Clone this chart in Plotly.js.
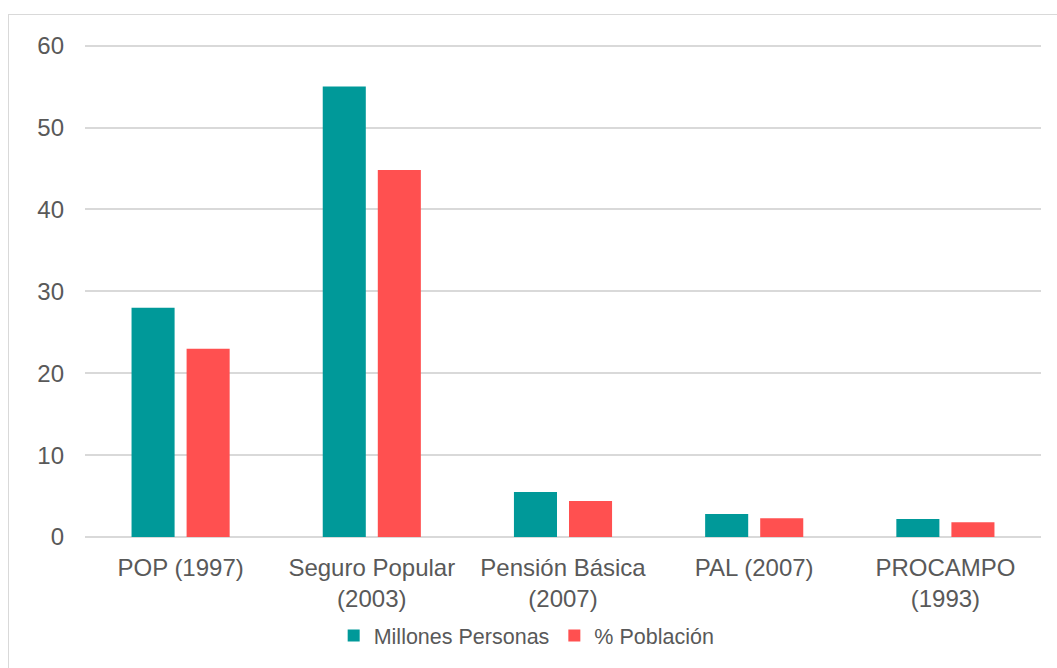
<!DOCTYPE html>
<html>
<head>
<meta charset="utf-8">
<script src="https://cdn.plot.ly/plotly-3.0.1.min.js"></script>
<style>
  html, body { margin: 0; padding: 0; background: #fff; }
  #wrap { position: relative; width: 1057px; height: 668px; overflow: hidden; }
  #chart { width: 1057px; height: 668px; }
  #frame { position: absolute; left: 8px; top: 14px; width: 1100px; height: 700px;
           border: 1.5px solid #d9d9d9; box-sizing: border-box; pointer-events: none; }
</style>
</head>
<body>
<div id="wrap">
  <div id="chart"></div>
  <div id="frame"></div>
</div>
<script>
const categories = ["POP (1997)", "Seguro Popular<br>(2003)", "Pensión Básica<br>(2007)", "PAL (2007)", "PROCAMPO<br>(1993)"];
const millonesPersonas = [28, 55, 5.5, 2.8, 2.2];
const porcentajePoblacion = [23, 44.8, 4.4, 2.3, 1.8];
const seriesNames = ["Millones Personas", "% Población"];
const yTicks = [0, 10, 20, 30, 40, 50, 60];

const textColor = "#595959";
const font = { family: "Liberation Sans, Arial, sans-serif", size: 24, color: textColor };

const data = [
  { type: "bar", x: categories, y: millonesPersonas, name: seriesNames[0],
    marker: { color: "#009999" }, hoverinfo: "x+y+name" },
  { type: "bar", x: categories, y: porcentajePoblacion, name: seriesNames[1],
    marker: { color: "#FF5050" }, hoverinfo: "x+y+name" }
];

const layout = {
  width: 1057, height: 668,
  margin: { l: 85, r: 16, t: 44, b: 129, pad: 0 },
  paper_bgcolor: "#ffffff", plot_bgcolor: "#ffffff",
  font: font,
  barmode: "group",
  bargap: 0.424,
  bargroupgap: 0.218,
  showlegend: true,
  legend: {
    orientation: "h", x: 0.462, xanchor: "center", y: -0.2, yanchor: "middle",
    font: { family: font.family, size: 21.5, color: textColor },
    itemclick: false, itemdoubleclick: false
  },
  xaxis: {
    type: "category",
    tickfont: { family: font.family, size: 24, color: textColor },
    showgrid: false, zeroline: false, showline: false, ticks: "",
    ticklabelstandoff: 14,
    automargin: false
  },
  yaxis: {
    range: [0, 60.2],
    tickvals: yTicks,
    ticktext: yTicks.map(String),
    tickfont: { family: font.family, size: 24, color: textColor },
    showgrid: true, gridcolor: "#d9d9d9", gridwidth: 1.5,
    zeroline: true, zerolinecolor: "#d9d9d9", zerolinewidth: 1.5,
    showline: false, ticks: "", ticklabelstandoff: 20,
    automargin: false, fixedrange: true
  }
};

Plotly.newPlot("chart", data, layout, { displayModeBar: false, staticPlot: false });
</script>
</body>
</html>
